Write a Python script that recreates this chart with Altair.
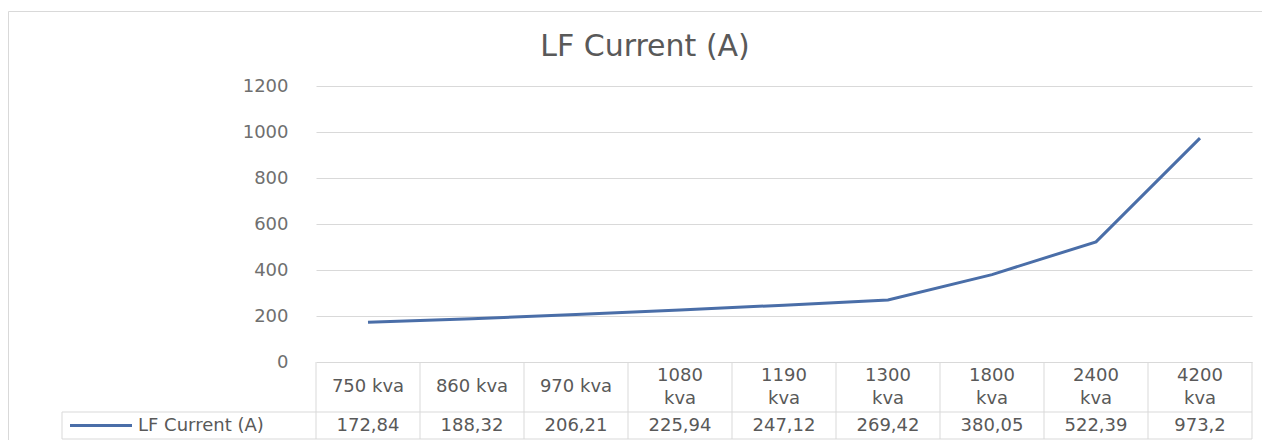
import altair as alt
import pandas as pd

# ---- data ----
categories = ["750 kva", "860 kva", "970 kva", "1080 kva", "1190 kva",
              "1300 kva", "1800 kva", "2400 kva", "4200 kva"]
values = [172.84, 188.32, 206.21, 225.94, 247.12, 269.42, 380.05, 522.39, 973.2]
y_ticks = [0, 200, 400, 600, 800, 1000, 1200]
series_name = "LF Current (A)"
title_text = "LF Current (A)"

df = pd.DataFrame({"cat": categories, "val": values})
one = pd.DataFrame({"k": [0]})

# ---- layout / style ----
W, H = 936, 276
STEP = W / len(categories)
HEAD_BOTTOM = 326      # bottom of header row (relative to plot top)
TABLE_BOTTOM = 353     # bottom of value row
LEG_LEFT = -254
LH = 23                # line height of wrapped header labels
LINE = "#4a6ea8"
TEXT = "#595959"
AXIS_TEXT = "#6f6f6f"
GRID = "#d9d9d9"
FONT = "DejaVu Sans"
FS = 18
HEAD_MID = (H + HEAD_BOTTOM) / 2
VAL_MID = (HEAD_BOTTOM + TABLE_BOTTOM) / 2

x = alt.X("cat:N", sort=categories,
          scale=alt.Scale(type="point", padding=0.5), axis=None)
y = alt.Y("val:Q", scale=alt.Scale(domain=[0, 1200], nice=False),
          axis=alt.Axis(values=y_ticks, format="d", title=None, domain=False,
                        ticks=False, labelPadding=28, labelColor=AXIS_TEXT,
                        labelFont=FONT, labelFontSize=FS, grid=True,
                        gridColor=GRID, gridWidth=1))

base = alt.Chart(df)

line = base.mark_line(color=LINE, strokeWidth=3).encode(x=x, y=y)

text_style = dict(font=FONT, fontSize=FS, color=TEXT, baseline="middle",
                  align="center")

# header labels: short ones on one line, long ones wrapped onto two lines
header_one = base.transform_filter("length(datum.cat) <= 7").mark_text(
    **text_style).encode(x=x, y=alt.value(HEAD_MID), text="cat:N")
header_two = base.transform_filter("length(datum.cat) > 7").transform_calculate(
    lab="replace(datum.cat, ' ', '\\n')"
).mark_text(lineBreak="\n", lineHeight=LH, **text_style).encode(
    x=x, y=alt.value(HEAD_MID - LH / 2), text="lab:N")

vals = base.transform_calculate(
    vtxt="replace(toString(datum.val), '.', ',')"
).mark_text(**text_style).encode(x=x, y=alt.value(VAL_MID), text="vtxt:N")

col_lines = base.mark_rule(color=GRID, strokeWidth=1, xOffset=-STEP / 2).encode(
    x=x, y=alt.value(H), y2=alt.value(TABLE_BOTTOM))

deco = alt.Chart(one)
right_edge = deco.mark_rule(color=GRID, strokeWidth=1).encode(
    x=alt.value(W), y=alt.value(H), y2=alt.value(TABLE_BOTTOM))
leg_edge = deco.mark_rule(color=GRID, strokeWidth=1).encode(
    x=alt.value(LEG_LEFT), y=alt.value(HEAD_BOTTOM), y2=alt.value(TABLE_BOTTOM))
h1 = deco.mark_rule(color=GRID, strokeWidth=1).encode(
    x=alt.value(LEG_LEFT), x2=alt.value(W), y=alt.value(HEAD_BOTTOM))
h2 = deco.mark_rule(color=GRID, strokeWidth=1).encode(
    x=alt.value(LEG_LEFT), x2=alt.value(W), y=alt.value(TABLE_BOTTOM))

leg_key = deco.mark_rule(color=LINE, strokeWidth=3).encode(
    x=alt.value(LEG_LEFT + 8), x2=alt.value(LEG_LEFT + 70), y=alt.value(VAL_MID))
leg_text = deco.mark_text(font=FONT, fontSize=FS, color=TEXT, align="left",
                          baseline="middle", text=series_name).encode(
    x=alt.value(LEG_LEFT + 76), y=alt.value(VAL_MID))

title = deco.mark_text(font=FONT, fontSize=30, color=TEXT, align="center",
                       baseline="middle", text=title_text).encode(
    x=alt.value(329), y=alt.value(-39))

border = deco.mark_rect(fillOpacity=0, stroke=GRID, strokeWidth=1).encode(
    x=alt.value(-307.5), x2=alt.value(954), y=alt.value(-74.5), y2=alt.value(420))

chart = alt.layer(
    border, line, col_lines, right_edge, leg_edge, h1, h2,
    header_one, header_two, vals, leg_key, leg_text, title
).properties(
    width=W, height=H,
    autosize=alt.AutoSizeParams(type="none"),
    padding={"left": 308, "top": 78, "right": 10, "bottom": 78},
    background="white",
).configure_view(strokeWidth=0)

chart.save("out.html", embed_options={"renderer": "svg", "actions": False})
